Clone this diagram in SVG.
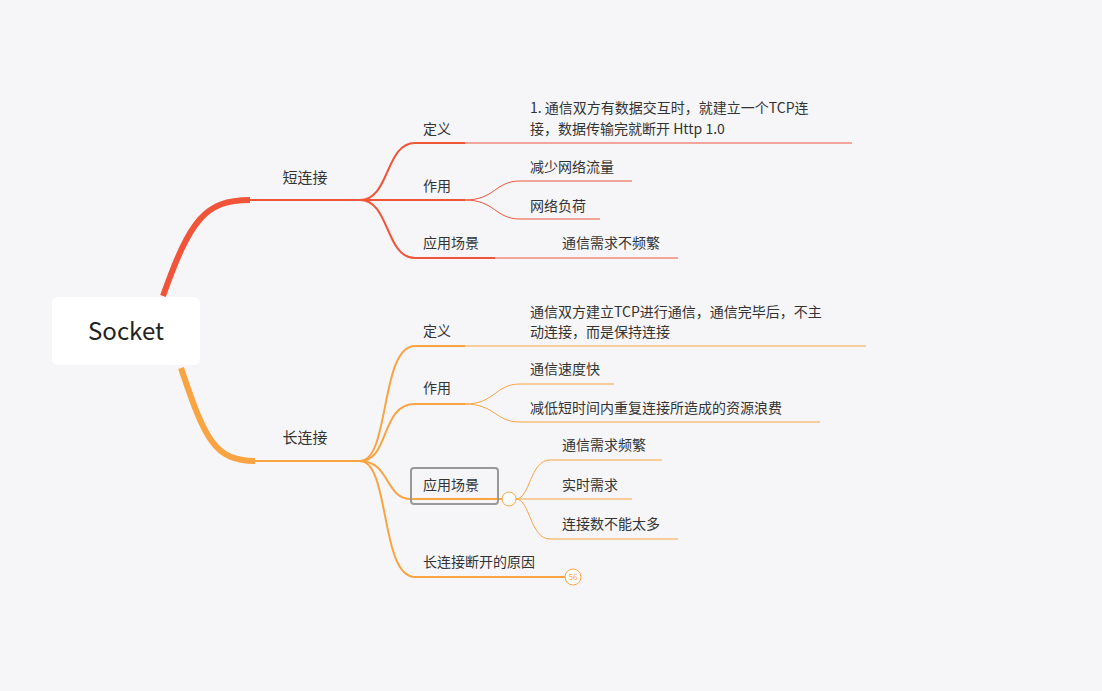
<svg xmlns="http://www.w3.org/2000/svg" width="1102" height="691" viewBox="0 0 1102 691">
<style>
text{font-family:"Noto Sans CJK SC","Noto Sans",sans-serif;fill:#333;font-size:14px}
.r{stroke:#f0553a;fill:none}
.o{stroke:#f9a443;fill:none}
</style>
<rect width="1102" height="691" fill="#f6f6f9"/>
<g id="connectors">
<path class="r" stroke-width="6" d="M163 296 C190 220 205 200 250 200"/>
<path class="r" stroke-width="2" d="M250 200 H360"/>
<path class="r" stroke-width="2" d="M360 200 C390 200 385 143 415 143 H465"/>
<path class="r" stroke-width="1" d="M465 143 H852"/>
<path class="r" stroke-width="2" d="M360 200 H465"/>
<path class="r" stroke-width="1" d="M465 200 C495 200 495 181 520 181 H632"/>
<path class="r" stroke-width="1" d="M465 200 C495 200 495 219 520 219 H600"/>
<path class="r" stroke-width="2" d="M360 200 C390 200 385 258 415 258 H495"/>
<path class="r" stroke-width="1" d="M495 258 H678"/>
<path class="o" stroke-width="6" d="M181 368 C205 440 215 461 255 461"/>
<path class="o" stroke-width="2" d="M255 461 H360"/>
<path class="o" stroke-width="2" d="M360 461 C390 461 380 346 415 346 H465"/>
<path class="o" stroke-width="1" d="M465 346 H866"/>
<path class="o" stroke-width="2" d="M360 461 C390 461 380 404 415 404 H465"/>
<path class="o" stroke-width="1" d="M465 404 C495 404 495 384 520 384 H614"/>
<path class="o" stroke-width="1" d="M465 404 C495 404 495 422 520 422 H820"/>
<path class="o" stroke-width="2" d="M360 461 C390 461 385 499 411 499 H502"/>
<path class="o" stroke-width="1" d="M516 499 C530 499 530 460 550 460 H662"/>
<path class="o" stroke-width="1" d="M516 499 H632"/>
<path class="o" stroke-width="1" d="M516 499 C530 499 530 539 550 539 H678"/>
<path class="o" stroke-width="2" d="M360 461 C390 461 380 577 415 577 H565"/>
</g>
<g id="root"><rect x="52" y="297" width="148" height="68" rx="6" fill="#fff"/><text x="126" y="340" text-anchor="middle" style="font-size:24px;fill:#222">Socket</text></g>
<g id="short"><text x="305" y="183" text-anchor="middle" style="font-size:15px">短连接</text></g>
<g id="s1"><text x="423" y="134">定义</text></g>
<g id="s1a"><text x="530" y="113">1. 通信双方有数据交互时，就建立一个TCP连</text><text x="530" y="134">接，数据传输完就断开 Http 1.0</text></g>
<g id="s2"><text x="423" y="191">作用</text></g>
<g id="s2a"><text x="530" y="172">减少网络流量</text></g>
<g id="s2b"><text x="530" y="211">网络负荷</text></g>
<g id="s3"><text x="423" y="248">应用场景</text></g>
<g id="s3a"><text x="562" y="248">通信需求不频繁</text></g>
<g id="long"><text x="305" y="443" text-anchor="middle" style="font-size:15px">长连接</text></g>
<g id="l1"><text x="423" y="336">定义</text></g>
<g id="l1a"><text x="530" y="317">通信双方建立TCP进行通信，通信完毕后，不主</text><text x="530" y="337">动连接，而是保持连接</text></g>
<g id="l2"><text x="423" y="393">作用</text></g>
<g id="l2a"><text x="530" y="374">通信速度快</text></g>
<g id="l2b"><text x="530" y="413">减低短时间内重复连接所造成的资源浪费</text></g>
<g id="l3"><rect x="411" y="468" width="87" height="36" rx="3" fill="none" stroke="#999" stroke-width="2"/><text x="423" y="490">应用场景</text><circle cx="509" cy="499" r="7" fill="#fff" stroke="#f9a443"/></g>
<g id="l3a"><text x="562" y="450">通信需求频繁</text></g>
<g id="l3b"><text x="562" y="490">实时需求</text></g>
<g id="l3c"><text x="562" y="529">连接数不能太多</text></g>
<g id="l4"><text x="423" y="567">长连接断开的原因</text><circle cx="573" cy="577" r="8" fill="#fff" stroke="#f9a443"/><text x="573" y="580" text-anchor="middle" style="font-size:8px;fill:#f9a443">56</text></g>
</svg>
